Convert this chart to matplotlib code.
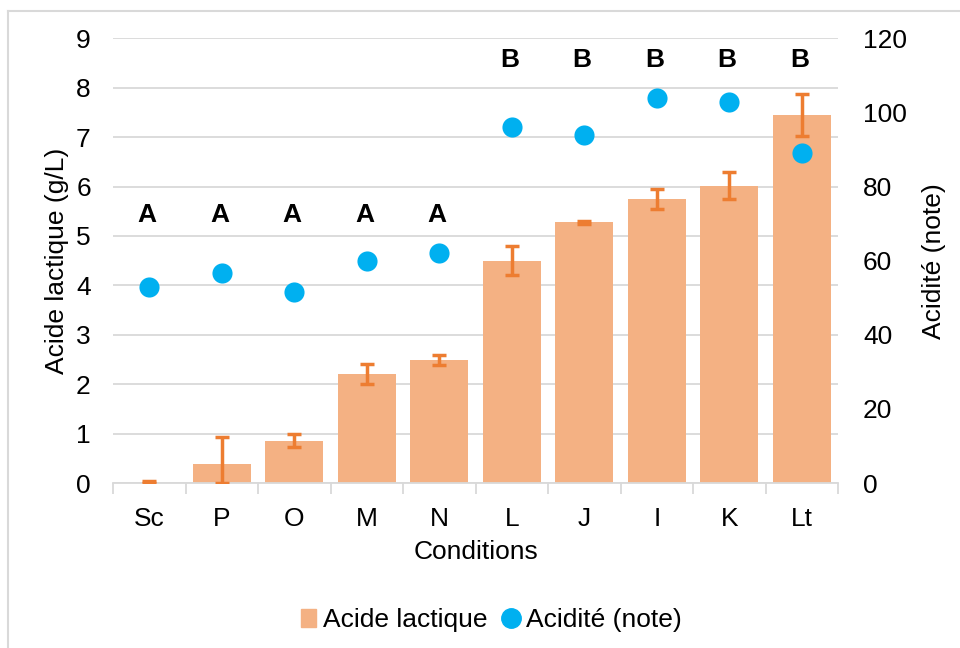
import numpy as np
from matplotlib import pyplot as plt
from matplotlib.patches import Rectangle
from matplotlib.lines import Line2D

conditions = ['Sc', 'P', 'O', 'M', 'N', 'L', 'J', 'I', 'K', 'Lt']
lactic = [0.0, 0.38, 0.86, 2.21, 2.49, 4.5, 5.28, 5.75, 6.02, 7.45]
lactic_err = [0.04, 0.55, 0.13, 0.2, 0.11, 0.29, 0.03, 0.21, 0.28, 0.42]
acidity = [52.8, 56.6, 51.6, 59.9, 62.0, 96.0, 93.9, 104.0, 102.8, 89.0]
groups = ['A', 'A', 'A', 'A', 'A', 'B', 'B', 'B', 'B', 'B']
group_y = {'A': 5.42, 'B': 8.56}

plt.rcParams['font.family'] = ['Liberation Sans', 'DejaVu Sans']
fs = 19

bar_col = '#F4B183'
err_col = '#ED7D31'
dot_col = '#00B0F0'
grid_col = '#D9D9D9'

fig = plt.figure(figsize=(9.6, 6.48), dpi=100)
ax = fig.add_axes([0.1177, 0.2546, 0.7553, 0.6863])
x = np.arange(len(conditions))

ax.bar(x, lactic, width=0.8, color=bar_col, zorder=2)
lo = np.minimum(lactic_err, lactic)
ax.errorbar(x, lactic, yerr=[lo, lactic_err], fmt='none', ecolor=err_col,
            elinewidth=2.5, capsize=5, capthick=2.5, zorder=3)

ax.set_ylim(0, 9)
ax.set_xlim(-0.5, len(conditions) - 0.5)
ax.set_yticks(range(0, 10))
ax.grid(axis='y', color=grid_col, linewidth=1.3, zorder=0)
ax.set_axisbelow(True)
for s in ['top', 'right', 'left']:
    ax.spines[s].set_visible(False)
ax.spines['bottom'].set_color(grid_col)
ax.spines['bottom'].set_linewidth(1.3)
ax.tick_params(axis='y', length=0, labelsize=fs, pad=16)
ax.set_xticks(x)
ax.set_xticklabels(conditions)
ax.tick_params(axis='x', length=0, labelsize=fs, pad=17)
ax.set_xticks(np.arange(-0.5, len(conditions)), minor=True)
ax.tick_params(axis='x', which='minor', length=8, color=grid_col, width=1.3)
ax.set_ylabel('Acide lactique (g/L)', fontsize=fs, labelpad=5)
ax.set_xlabel('Conditions', fontsize=fs, labelpad=7)

for xi, g in zip(x, groups):
    ax.text(xi - 0.03, group_y[g], g, ha='center', va='center',
            fontsize=fs, fontweight='bold', zorder=5)

ax2 = ax.twinx()
ax2.scatter(x, acidity, s=210, color=dot_col, zorder=4, linewidths=0)
ax2.set_ylim(0, 120)
ax2.set_yticks(range(0, 121, 20))
for s in ['top', 'right', 'left', 'bottom']:
    ax2.spines[s].set_visible(False)
ax2.tick_params(axis='y', length=0, labelsize=fs, pad=18)
ax2.set_ylabel('Acidité (note)', fontsize=fs, labelpad=11)

handles = [Rectangle((0, 0), 1, 1, color=bar_col),
           Line2D([], [], marker='o', linestyle='none', color=dot_col, markersize=14)]
fig.legend(handles, ['Acide lactique', 'Acidité (note)'], loc='center',
           bbox_to_anchor=(0.512, 0.043), ncol=2, frameon=False, fontsize=fs,
           handlelength=0.55, handletextpad=0.3, columnspacing=0.6)

# chart border, only its top and left edges are in frame
fig.add_artist(Line2D([7.5 / 960, 1], [1 - 10.5 / 648] * 2, transform=fig.transFigure,
                      color=grid_col, linewidth=1.5))
fig.add_artist(Line2D([7.5 / 960] * 2, [0, 1 - 10.5 / 648], transform=fig.transFigure,
                      color=grid_col, linewidth=1.5))

fig.savefig('out.png', dpi=100)
